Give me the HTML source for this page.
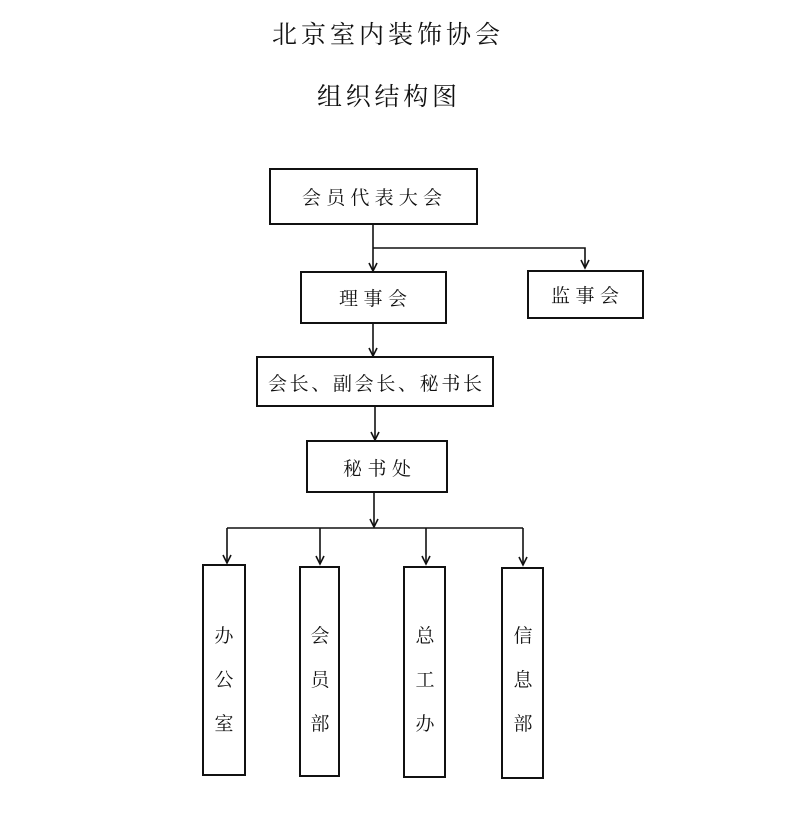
<!DOCTYPE html>
<html><head><meta charset="utf-8"><style>
html,body{margin:0;padding:0;background:#fff;}
svg{display:block;}
text{font-family:"Liberation Serif","Noto Serif CJK SC",serif;fill:#111;}
</style></head><body>
<svg width="786" height="833" viewBox="0 0 786 833" xmlns="http://www.w3.org/2000/svg">
<defs><marker id="a" markerWidth="12" markerHeight="12" refX="10" refY="5" orient="auto" markerUnits="userSpaceOnUse"><path d="M2,1 L10,5 L2,9" fill="none" stroke="#111" stroke-width="1.6"/></marker></defs>
<text x="272" y="43" font-size="25" textLength="228" lengthAdjust="spacing">北京室内装饰协会</text>
<text x="317" y="105" font-size="25" textLength="140" lengthAdjust="spacing">组织结构图</text>
<g fill="none" stroke="#111" stroke-width="2">
<rect x="270" y="169" width="207" height="55"/>
<rect x="301" y="272" width="145" height="51"/>
<rect x="528" y="271" width="115" height="47"/>
<rect x="257" y="357" width="236" height="49"/>
<rect x="307" y="441" width="140" height="51"/>
<rect x="203" y="565" width="42" height="210"/>
<rect x="300" y="567" width="39" height="209"/>
<rect x="404" y="567" width="41" height="210"/>
<rect x="502" y="568" width="41" height="210"/>
</g>
<g fill="none" stroke="#111" stroke-width="1.6">
<line x1="373" y1="224" x2="373" y2="271" marker-end="url(#a)"/>
<polyline points="373,248 585,248 585,268" marker-end="url(#a)"/>
<line x1="373" y1="323" x2="373" y2="356" marker-end="url(#a)"/>
<line x1="375" y1="406" x2="375" y2="440" marker-end="url(#a)"/>
<line x1="374" y1="492" x2="374" y2="527" marker-end="url(#a)"/>
<line x1="227" y1="528" x2="523" y2="528"/>
<line x1="227" y1="528" x2="227" y2="563" marker-end="url(#a)"/>
<line x1="320" y1="528" x2="320" y2="564" marker-end="url(#a)"/>
<line x1="426" y1="528" x2="426" y2="564" marker-end="url(#a)"/>
<line x1="523" y1="528" x2="523" y2="565" marker-end="url(#a)"/>
</g>
<g font-size="19">
<text x="302" y="204" textLength="140" lengthAdjust="spacing">会员代表大会</text>
<text x="339" y="305" textLength="68" lengthAdjust="spacing">理事会</text>
<text x="551" y="302" textLength="68" lengthAdjust="spacing">监事会</text>
<text x="268" y="390" textLength="214" lengthAdjust="spacing">会长、副会长、秘书长</text>
<text x="343" y="475" textLength="68" lengthAdjust="spacing">秘书处</text>
</g>
<g font-size="19" text-anchor="middle">
<text x="224" y="642">办</text><text x="224" y="686">公</text><text x="224" y="730">室</text>
<text x="320" y="642">会</text><text x="320" y="686">员</text><text x="320" y="730">部</text>
<text x="425" y="642">总</text><text x="425" y="686">工</text><text x="425" y="730">办</text>
<text x="523" y="642">信</text><text x="523" y="686">息</text><text x="523" y="730">部</text>
</g>
</svg>
</body></html>
